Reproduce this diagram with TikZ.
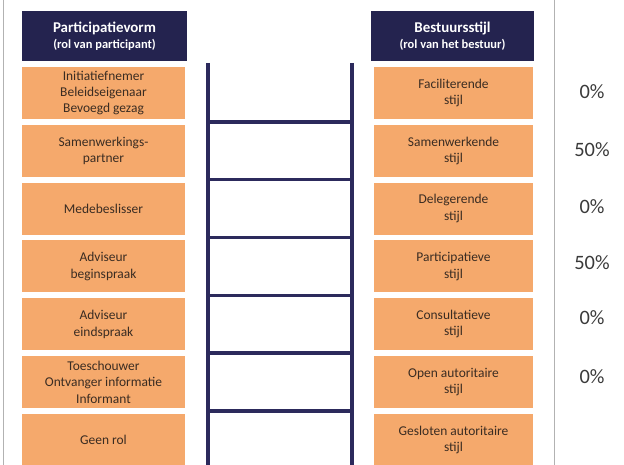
\documentclass[tikz,border=0pt]{standalone}
\usepackage{fontspec}
\setmainfont{Carlito}
\definecolor{navy}{HTML}{24234F}
\definecolor{orng}{HTML}{F5A96C}
\definecolor{boxtxt}{HTML}{3A2C22}
\definecolor{rail}{HTML}{2C2A5C}
\definecolor{pct}{HTML}{3A3A3A}
\begin{document}
\begin{tikzpicture}[x=1bp,y=-1bp,
  header/.style={fill=navy,text=white,draw=none,minimum height=50bp,align=center,inner sep=0pt,
    font=\bfseries\fontsize{15}{17}\selectfont},
  obox/.style={fill=orng,text=boxtxt,draw=none,minimum height=52bp,align=center,inner sep=0pt,
    font=\fontsize{13.5}{16.5}\selectfont},
  lbox/.style={obox,minimum width=163bp},
  rbox/.style={obox,minimum width=159bp},
  pctlab/.style={text=pct,font=\fontsize{20.5}{24}\selectfont,inner sep=0pt},
  railline/.style={draw=rail,line width=4.5bp},
  rungline/.style={draw=rail,line width=3.5bp},
  border/.style={draw=black!30,line width=1bp}]
\useasboundingbox (0,0) rectangle (624,465);
\begin{scope}
\clip (0,0) rectangle (624,465);
% border lines
\coordinate (bl1) at (3,0); \coordinate (bl2) at (3,465);
\coordinate (br1) at (554,0); \coordinate (br2) at (554,465);
\draw[border] (bl1) -- (bl2);
\draw[border] (br1) -- (br2);
% headers
\node[header,minimum width=165bp] (hl) at (104.5,36) {Participatievorm\\[-1pt]{\fontsize{12.5}{14}\selectfont (rol van participant)}};
\node[header,minimum width=163bp] (hr) at (452.5,36) {Bestuursstijl\\[-1pt]{\fontsize{12.5}{14}\selectfont (rol van het bestuur)}};
% left boxes
\node[lbox] (l1) at (103.5,93.0) {Initiatiefnemer\\Beleidseigenaar\\Bevoegd gezag};
\node[lbox] (l2) at (103.5,150.8) {Samenwerkings-\\partner};
\node[lbox] (l3) at (103.5,208.6) {Medebeslisser};
\node[lbox] (l4) at (103.5,266.4) {Adviseur\\beginspraak};
\node[lbox] (l5) at (103.5,324.2) {Adviseur\\eindspraak};
\node[lbox] (l6) at (103.5,382.0) {Toeschouwer\\Ontvanger informatie\\Informant};
\node[lbox] (l7) at (103.5,439.8) {Geen rol};
% right boxes
\node[rbox] (r1) at (453.5,93.0) {Faciliterende\\stijl};
\node[rbox] (r2) at (453.5,150.8) {Samenwerkende\\stijl};
\node[rbox] (r3) at (453.5,208.6) {Delegerende\\stijl};
\node[rbox] (r4) at (453.5,266.4) {Participatieve\\stijl};
\node[rbox] (r5) at (453.5,324.2) {Consultatieve\\stijl};
\node[rbox] (r6) at (453.5,382.0) {Open autoritaire\\stijl};
\node[rbox] (r7) at (453.5,439.8) {Gesloten autoritaire\\stijl};
% percentages
\node[pctlab] (p1) at (592,92) {0\%};
\node[pctlab] (p2) at (592,150) {50\%};
\node[pctlab] (p3) at (592,207) {0\%};
\node[pctlab] (p4) at (592,263) {50\%};
\node[pctlab] (p5) at (592,318) {0\%};
\node[pctlab] (p6) at (592,377) {0\%};
% ladder
\coordinate (lt) at (208,63); \coordinate (lb) at (208,470);
\coordinate (rt) at (352,63); \coordinate (rb) at (352,470);
\draw[railline] (lt) -- (lb);
\draw[railline] (rt) -- (rb);
\foreach \i in {0,...,5}{
  \coordinate (ga\i) at (208,{121.9+57.8*\i});
  \coordinate (gb\i) at (352,{121.9+57.8*\i});
  \draw[rungline] (ga\i) -- (gb\i);
}
\end{scope}
\end{tikzpicture}
\end{document}
